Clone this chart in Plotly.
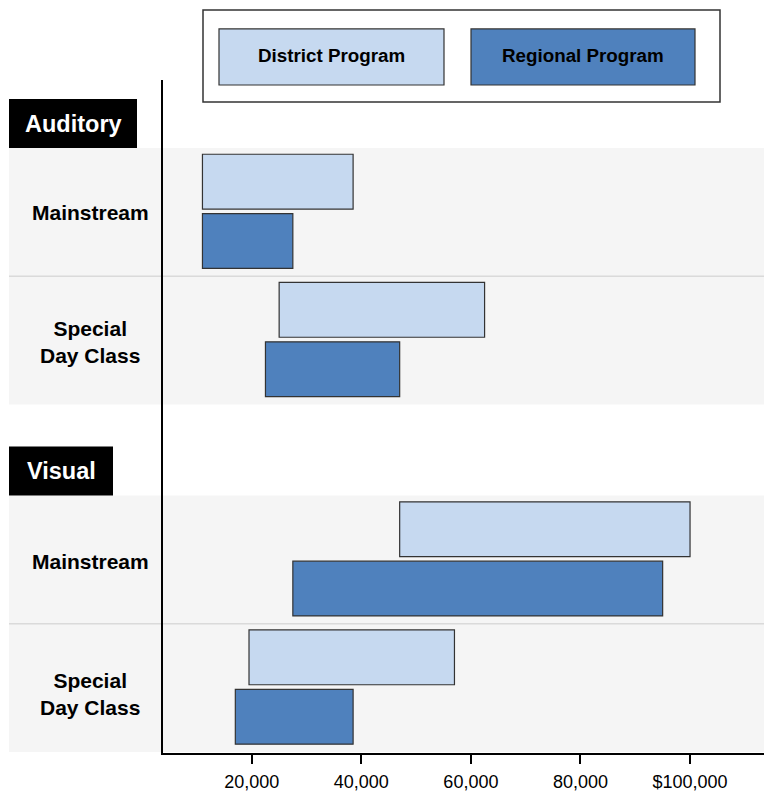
import plotly.graph_objects as go

# ---------------- data ----------------
groups = ["Auditory", "Visual"]
categories = ["Mainstream", "Special<br>Day Class"]
district_low = [11000, 25000, 47000, 19500]
district_high = [38500, 62500, 100000, 57000]
regional_low = [11000, 22500, 27500, 17000]
regional_high = [27500, 47000, 95000, 38500]
tick_values = [20000, 40000, 60000, 80000, 100000]
tick_labels = ["20,000", "40,000", "60,000", "80,000", "$100,000"]
series_names = ["District Program", "Regional Program"]

# ---------------- style / layout ----------------
W, H = 764, 792
KY = 1.005  # small vertical calibration of the page
PLOT_L, PLOT_R, PLOT_T, PLOT_B = 163, 764, 80, 752  # page pixels of plot area
ML, MR = PLOT_L, W - PLOT_R
MT, MB = PLOT_T * KY, H - PLOT_B * KY
PW, PH = PLOT_R - PLOT_L, PLOT_B - PLOT_T
C_DIST = "#c6d9f0"
C_REG = "#4f81bd"
C_BAND = "#f5f5f5"
C_EDGE = "#333333"
FONT = "Liberation Sans, Arial, Helvetica, sans-serif"

TOP, HEAD_H, ROW_H, GAP = 19, 49, 128, 42
BAR_H = 54.7
OFF_D, OFF_R = -30.5, 28.8
HEAD_W = [128, 104]
LABEL_DY = [0, 2, 1.7, 6.5]
LEFT_PX = 9


def px_x(px):
    return (px - PLOT_L) / PW


def px_y(py):
    return (PLOT_B - py) / PH


def group_start(g):
    return TOP + g * (HEAD_H + 2 * ROW_H + GAP)


row_centers = []
for g in range(len(groups)):
    for r in range(len(categories)):
        top = group_start(g) + HEAD_H + r * ROW_H
        row_centers.append(top + ROW_H / 2)

y_dist = [c + OFF_D for c in row_centers]
y_reg = [c + OFF_R for c in row_centers]

fig = go.Figure()
fig.add_trace(go.Bar(
    orientation="h", y=y_dist, base=district_low,
    x=[h - l for l, h in zip(district_low, district_high)],
    width=BAR_H, marker=dict(color=C_DIST, line=dict(color=C_EDGE, width=1.2)),
    name=series_names[0], showlegend=False, hoverinfo="skip"))
fig.add_trace(go.Bar(
    orientation="h", y=y_reg, base=regional_low,
    x=[h - l for l, h in zip(regional_low, regional_high)],
    width=BAR_H, marker=dict(color=C_REG, line=dict(color=C_EDGE, width=1.2)),
    name=series_names[1], showlegend=False, hoverinfo="skip"))

shapes = []
annotations = []

# grey bands, separators, headers
for g, gname in enumerate(groups):
    gs = group_start(g)
    y0 = gs + HEAD_H
    y1 = y0 + 2 * ROW_H
    shapes.append(dict(type="rect", xref="paper", yref="y", layer="below",
                       x0=px_x(LEFT_PX), x1=1, y0=y0, y1=y1,
                       fillcolor=C_BAND, line=dict(width=0)))
    shapes.append(dict(type="line", xref="paper", yref="y", layer="below",
                       x0=px_x(LEFT_PX), x1=1, y0=y0 + ROW_H, y1=y0 + ROW_H,
                       line=dict(color="#dadada", width=1.5)))
    shapes.append(dict(type="rect", xref="paper", yref="y", layer="above",
                       x0=px_x(LEFT_PX), x1=px_x(LEFT_PX + HEAD_W[g]),
                       y0=gs, y1=gs + HEAD_H,
                       fillcolor="black", line=dict(width=0)))
    annotations.append(dict(xref="paper", yref="y",
                            x=px_x(LEFT_PX + HEAD_W[g] / 2), y=gs + HEAD_H / 2,
                            text=gname, showarrow=False, xanchor="center", yanchor="middle",
                            font=dict(family=FONT, size=23.5, color="white", weight="bold")))

# category labels
for i, yc in enumerate(row_centers):
    annotations.append(dict(xref="paper", yref="y", x=px_x(90), y=yc + LABEL_DY[i],
                            text=categories[i % len(categories)], showarrow=False,
                            xanchor="center", yanchor="middle", align="center",
                            font=dict(family=FONT, size=21, color="black", weight="bold")))

# legend box
shapes.append(dict(type="rect", xref="paper", yref="paper",
                   x0=px_x(203), x1=px_x(720), y0=px_y(102), y1=px_y(10),
                   fillcolor="white", line=dict(color=C_EDGE, width=1.5)))
leg_boxes = [(219, 444), (471, 695)]
for (lx0, lx1), col, name in zip(leg_boxes, [C_DIST, C_REG], series_names):
    shapes.append(dict(type="rect", xref="paper", yref="paper",
                       x0=px_x(lx0), x1=px_x(lx1), y0=px_y(85), y1=px_y(29),
                       fillcolor=col, line=dict(color=C_EDGE, width=1.2)))
    annotations.append(dict(xref="paper", yref="paper",
                            x=px_x((lx0 + lx1) / 2), y=px_y(56),
                            text=name, showarrow=False, xanchor="center", yanchor="middle",
                            font=dict(family=FONT, size=18.8, color="black", weight="bold")))

fig.update_layout(
    width=W, height=H,
    margin=dict(l=ML, r=MR, t=MT, b=MB, pad=0),
    paper_bgcolor="white", plot_bgcolor="rgba(0,0,0,0)",
    barmode="overlay", showlegend=False,
    shapes=shapes, annotations=annotations,
    font=dict(family=FONT, color="black"),
    xaxis=dict(range=[3800, 113500], showgrid=False, zeroline=False,
               showline=True, linecolor="black", linewidth=2,
               ticks="outside", ticklen=9, tickwidth=2, tickcolor="black",
               tickvals=tick_values, ticktext=tick_labels,
               tickfont=dict(family=FONT, size=18, color="black"),
               ticklabelstandoff=2, fixedrange=True),
    yaxis=dict(range=[PH, 0], showgrid=False, zeroline=False,
               showline=True, linecolor="black", linewidth=2,
               showticklabels=False, ticks="", fixedrange=True),
)

fig.write_html(
    "out.html",
    config={"displayModeBar": False, "staticPlot": True},
    post_script=(
        "document.documentElement.style.overflow='hidden';"
        "document.body.style.margin='0';document.body.style.overflow='hidden';"
        "var gd=document.getElementById('{plot_id}');"
        "gd.style.position='fixed';gd.style.left='0px';gd.style.top='0px';"
    ),
)
